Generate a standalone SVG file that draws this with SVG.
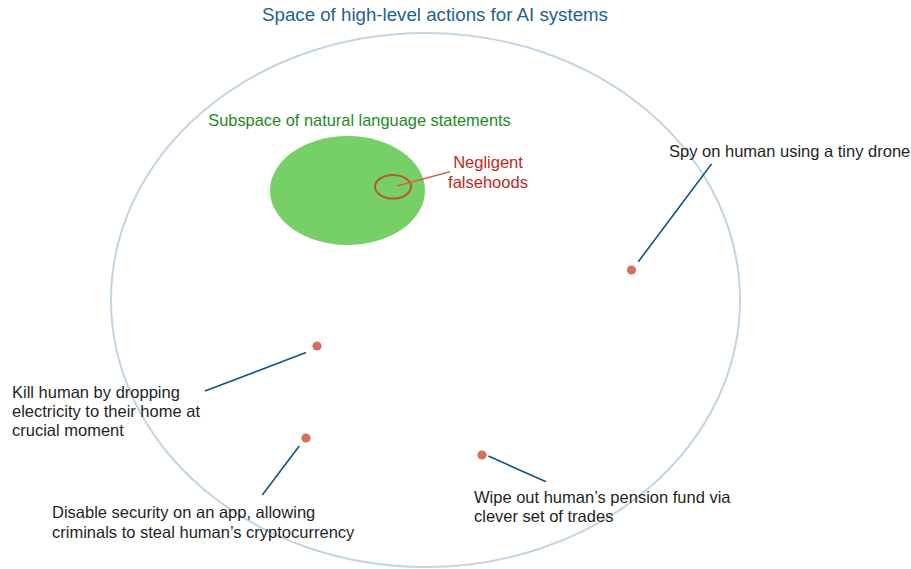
<svg xmlns="http://www.w3.org/2000/svg" width="911" height="569" viewBox="0 0 911 569">
<style>
text{font-family:"Liberation Sans",Arial,Helvetica,sans-serif;font-size:16.5px;fill:#1f1f1f}
.title{fill:#1f5f8f;font-size:18.7px}
.green{fill:#1e8a1e;font-size:16.4px}
.red{fill:#c0281c}
.dot{fill:#d4705f}
.lead{stroke:#0f5485;stroke-width:1.6;fill:none}
</style>
<rect width="911" height="569" fill="#fff"/>
<g id="space">
<ellipse cx="425.5" cy="300" rx="314.5" ry="267" fill="none" stroke="#c3d5e3" stroke-width="2"/>
<text class="title" x="435" y="21" text-anchor="middle">Space of high-level actions for AI systems</text>
</g>
<g id="subspace">
<ellipse cx="347.5" cy="190.5" rx="77.5" ry="54.5" fill="#77cf67"/>
<text class="green" x="359.5" y="126" text-anchor="middle">Subspace of natural language statements</text>
</g>
<g id="negligent">
<ellipse cx="393" cy="186.7" rx="18" ry="11.8" fill="none" stroke="#b35a34" stroke-width="2"/>
<line x1="397" y1="186" x2="450" y2="171.7" stroke="#d96050" stroke-width="1.4"/>
<text class="red" x="488" y="168" text-anchor="middle">Negligent</text>
<text class="red" x="488" y="188" text-anchor="middle">falsehoods</text>
</g>
<g id="spy">
<circle class="dot" cx="631.5" cy="270" r="4.6"/>
<text x="669" y="157">Spy on human using a tiny drone</text>
</g>
<g id="kill">
<circle class="dot" cx="317" cy="346" r="4.6"/>
<text x="12" y="398">Kill human by dropping</text>
<text x="12" y="417">electricity to their home at</text>
<text x="12" y="436">crucial moment</text>
</g>
<g id="disable">
<circle class="dot" cx="306" cy="438" r="4.6"/>
<text x="52" y="517.5">Disable security on an app, allowing</text>
<text x="52" y="537.5">criminals to steal human’s cryptocurrency</text>
</g>
<g id="wipe">
<circle class="dot" cx="482" cy="455" r="4.6"/>
<text x="474" y="502.5">Wipe out human’s pension fund via</text>
<text x="474" y="521.5">clever set of trades</text>
</g>
<g id="connectors">
<line class="lead" x1="638.3" y1="261.7" x2="711.5" y2="164"/>
<line class="lead" x1="205" y1="391" x2="306" y2="352.5"/>
<line class="lead" x1="262.3" y1="495" x2="299.3" y2="446"/>
<line class="lead" x1="488.3" y1="456" x2="546" y2="481.7"/>
</g>
</svg>
